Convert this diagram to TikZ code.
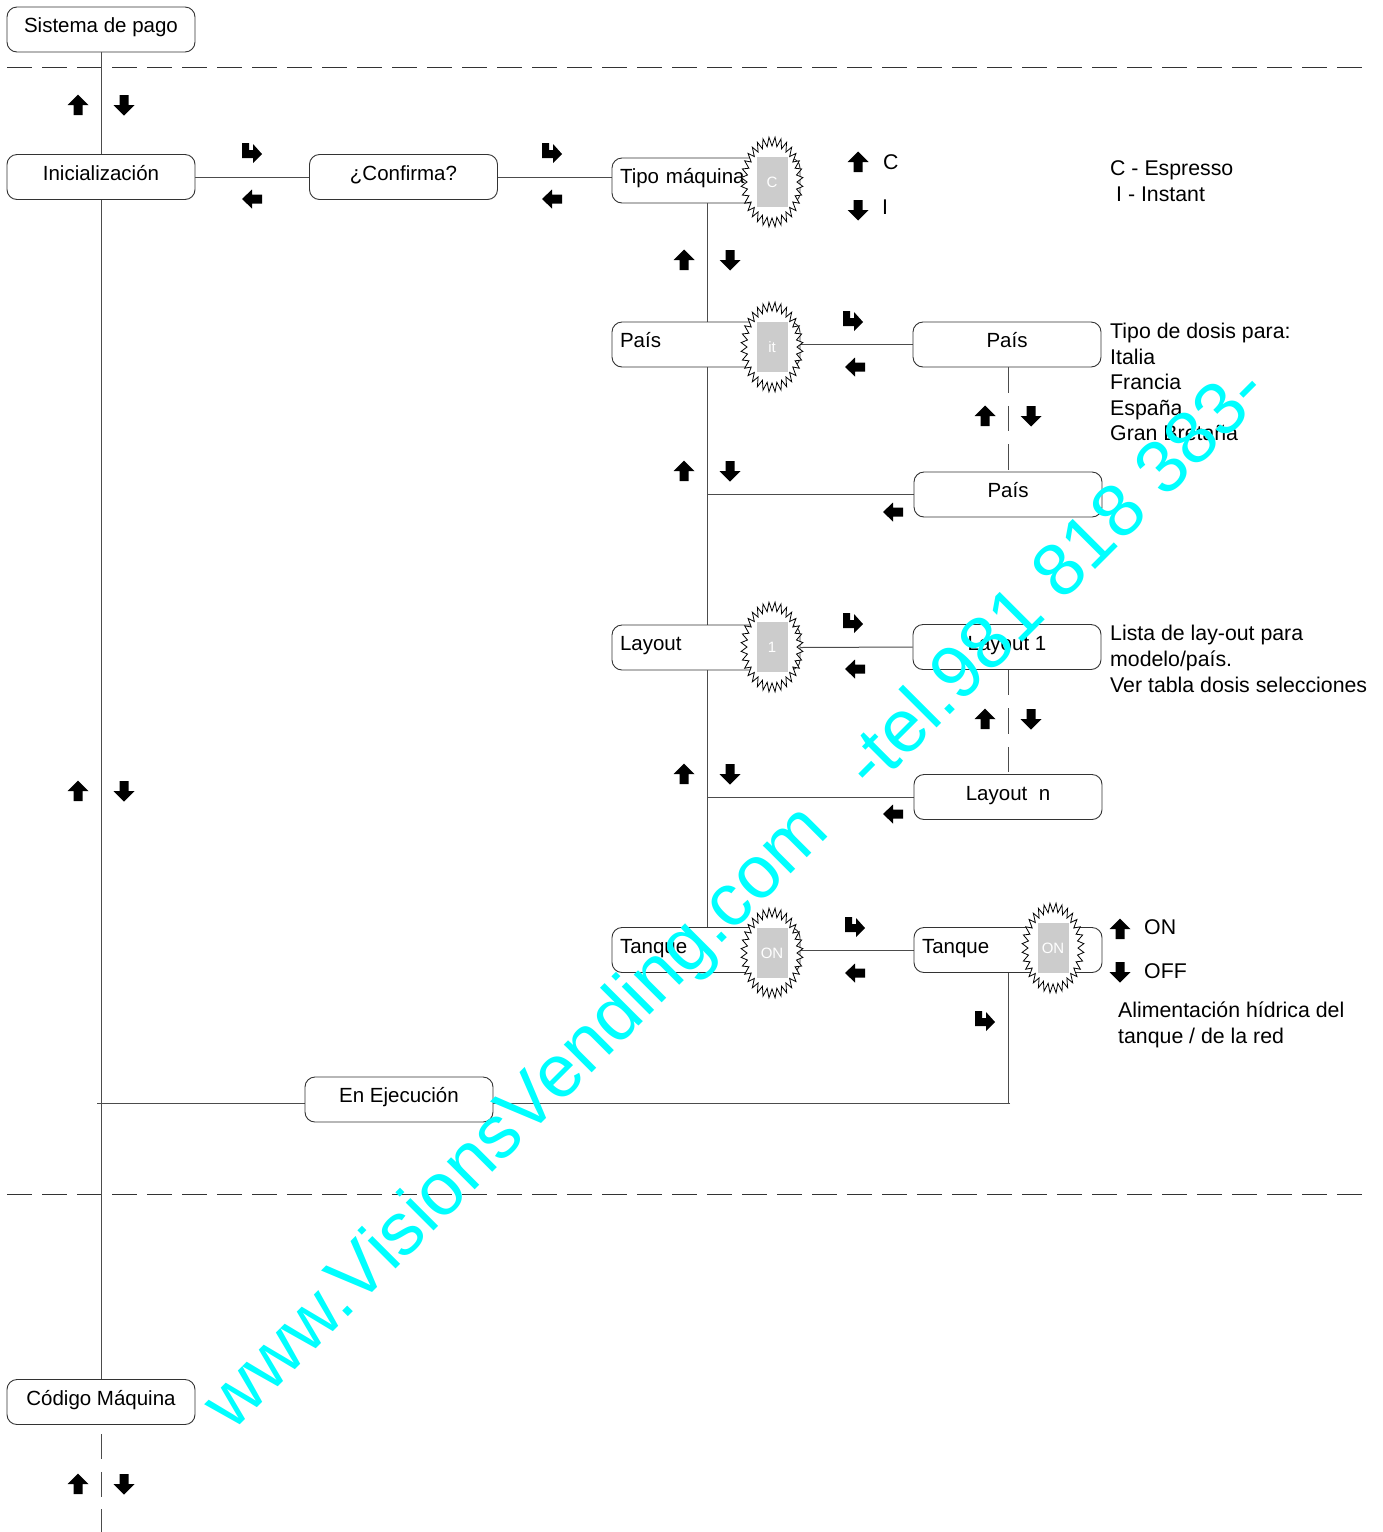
\documentclass[tikz,border=0pt]{standalone}
\usepackage{fontspec}
\setmainfont{Liberation Sans}
\usetikzlibrary{backgrounds}
\definecolor{wmcyan}{RGB}{0,255,255}
\newcommand\dfont{\fontsize{20.5}{25.5}\selectfont}
\newcommand\ffont{\fontsize{21.3}{25.5}\selectfont}
\begin{document}
\begin{tikzpicture}[x=1pt,y=-1pt,
  box/.style={draw=black!80, line width=0.9pt, rounded corners=10pt, minimum width=188pt, minimum height=45pt, inner sep=0pt, font=\dfont, fill=white, text height=12pt, text depth=5.4pt},
  lbox/.style={box, text width=172pt, align=left},
  conn/.style={draw=black!70, line width=1pt},
  gapline/.style={conn, dash pattern=on 25.5pt off 13pt},
  dashsep/.style={draw=black!80, line width=1pt, dash pattern=on 25pt off 10pt},
  free/.style={font=\ffont, anchor=base west, inner sep=0pt},
  upk/.pic={\fill (0,-10.5)--(10.5,0)--(4.5,0)--(4.5,10)--(-4.5,10)--(-4.5,0)--(-10.5,0)--cycle;},
  dnk/.pic={\fill (0,10.5)--(10.5,0)--(4.5,0)--(4.5,-10)--(-4.5,-10)--(-4.5,0)--(-10.5,0)--cycle;},
  lfk/.pic={\fill (-10,0)--(0,-9.5)--(0,-4.5)--(10,-4.5)--(10,4.5)--(0,4.5)--(0,9.5)--cycle;},
  enk/.pic={\fill (-10,-10)--(-3,-10)--(-3,-3)--(1,-3)--(1,-9)--(10,1)--(1,10)--(1,5)--(-10,5)--cycle;},
  burst/.pic={
    \draw[black, line width=0.8pt, fill=white] plot[samples at={0,...,63}] ({(28-3*cos(180*\x))*cos(360/64*\x)}, {(40.5-4.5*cos(180*\x))*sin(360/64*\x)}) -- cycle;
    \fill[black!20] (-15.5,-25) rectangle (15.5,25);
    \node[text=white, font=\fontsize{15}{15}\selectfont] (-lbl) at (0,0) {#1};
  }
]
\useasboundingbox (0,0) rectangle (1383,1532);

% separators
\coordinate (dl1) at (7,67); \coordinate (dr1) at (1368,67);
\coordinate (dl2) at (7,1194); \coordinate (dr2) at (1368,1194);

% boxes
\node[box] (sp) at (101,29.5) {Sistema de pago};
\node[box] (ini) at (101,177) {Inicialización};
\node[box] (conf) at (403.5,177) {¿Confirma?};
\node[lbox] (tipo) at (706,180.5) {Tipo máquina};
\node[lbox] (pais) at (706,344.5) {País};
\node[box] (pais2) at (1007,344.5) {País};
\node[box] (pais3) at (1008,494.5) {País};
\node[lbox] (lay) at (706,647.5) {Layout};
\node[box] (lay1) at (1007,647) {Layout 1};
\node[box] (layn) at (1008,797) {Layout\ \ n};
\node[lbox] (tan) at (706,950) {Tanque};
\node[lbox] (tan2) at (1008,950) {Tanque};
\node[box] (ejec) at (399,1099.5) {En Ejecución};
\node[box] (cod) at (101,1402) {Código Máquina};

\coordinate (ejR) at (1010,1103);
\coordinate (ejL) at (97,1103);
\coordinate (bottom) at (101,1532);
\coordinate (vx) at (707,0);

\begin{pgfonlayer}{background}
\fill[white] (0,0) rectangle (1383,1532);
\draw[dashsep] (dl1) -- (dr1);
\draw[dashsep] (dl2) -- (dr2);
\draw[conn] (sp.south) -- (ini.north);
\draw[conn] (ini.south) -- (cod.north);
\draw[conn] (ini.east) -- (conf.west);
\draw[conn] (conf.east) -- (conf.east -| tipo.west);
\draw[conn] (tipo.south -| vx) -- (tan.north -| vx);
\draw[conn] (pais.east) -- (pais2.west);
\draw[gapline] (pais2.south -| pais3.north) -- (pais3.north);
\draw[conn] (pais3.west) -- (pais3.west -| vx);
\draw[conn] (lay.east) -- (lay1.west);
\draw[gapline] (lay1.south -| layn.north) -- (layn.north);
\draw[conn] (layn.west) -- (layn.west -| vx);
\draw[conn] (tan.east) -- (tan2.west);
\draw[conn] (tan2.south) -- (tan2.south |- ejR);
\draw[conn] (ejR) -- (ejL);
\draw[conn, dash pattern=on 25pt off 12.5pt, dash phase=28pt] (cod.south) -- (bottom);
\end{pgfonlayer}

% bursts
\pic (b1) at (772,182) {burst={C}};
\pic (b2) at (772,347) {burst={it}};
\pic (b3) at (772,647) {burst={1}};
\pic (b4) at (772,953) {burst={ON}};
\pic (b5) at (1053,948) {burst={ON}};

% key arrows
\pic at (78,105) {upk}; \pic at (124,105) {dnk};
\pic at (252,153) {enk}; \pic at (252,199) {lfk};
\pic at (552,153) {enk}; \pic at (552,199) {lfk};
\pic at (858,162) {upk}; \pic at (858,210) {dnk};
\pic at (684,260) {upk}; \pic at (730,260) {dnk};
\pic at (853,321) {enk}; \pic at (855,367) {lfk};
\pic at (985,416) {upk}; \pic at (1031,416) {dnk};
\pic at (684,471) {upk}; \pic at (730,471) {dnk};
\pic at (893,512) {lfk};
\pic at (853,623) {enk}; \pic at (855,669) {lfk};
\pic at (985,719) {upk}; \pic at (1031,719) {dnk};
\pic at (684,774) {upk}; \pic at (730,774) {dnk};
\pic at (893,814) {lfk};
\pic at (78,791) {upk}; \pic at (124,791) {dnk};
\pic at (855,927) {enk}; \pic at (855,973) {lfk};
\pic at (1120,929) {upk}; \pic at (1120,972) {dnk};
\pic at (985,1021) {enk};
\pic at (78,1484) {upk}; \pic at (124,1484) {dnk};

% free texts
\node[free] (tc) at (883,169.5) {C};
\node[free] (ti) at (882,214.5) {I};
\node[free] (e1) at (1110,175.5) {C - Espresso};
\node[free] (e2) at (1116,201.5) {I - Instant};
\node[free] (d1) at (1110,338.5) {Tipo de dosis para:};
\node[free] (d2) at (1110,364.5) {Italia};
\node[free] (d3) at (1110,389.5) {Francia};
\node[free] (d4) at (1110,415.5) {España};
\node[free] (d5) at (1110,440.5) {Gran Bretaña};
\node[free] (l1) at (1110,640.5) {Lista de lay-out para};
\node[free] (l2) at (1110,666.5) {modelo/país.};
\node[free] (l3) at (1110,692.5) {Ver tabla dosis selecciones};
\node[free] (on) at (1144,934.5) {ON};
\node[free] (off) at (1144,978.5) {OFF};
\node[free] (a1) at (1118,1017.5) {Alimentación hídrica del};
\node[free] (a2) at (1118,1043.5) {tanque / de la red};

% watermark
\node[anchor=base west, inner sep=0pt, rotate=45, text=wmcyan, font=\fontsize{74.5}{75}\selectfont] (wm) at (232,1433) {www.VisionsVending.com\hspace{58pt}-tel.981 818 383-};
\end{tikzpicture}
\end{document}
